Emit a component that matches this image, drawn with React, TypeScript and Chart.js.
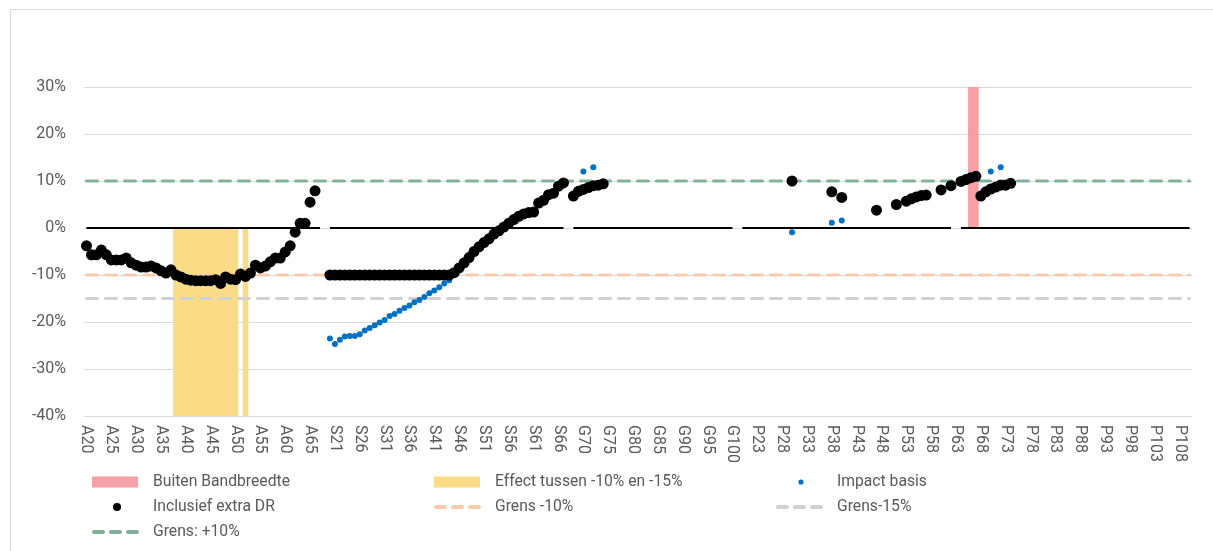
import React, { useEffect, useRef } from 'react';
import { Chart, registerables } from 'chart.js';

Chart.register(...registerables);

// ---------- categories ----------
function range(prefix: string, from: number, to: number): string[] {
  const out: string[] = [];
  for (let a = from; a <= to; a++) out.push(prefix + a);
  return out;
}
const groupA = range('A', 20, 67);
const groupS = range('S', 20, 67);
const groupG = range('G', 68, 100);
const groupP = range('P', 20, 110);
const categories: string[] = [...groupA, '', ...groupS, '', ...groupG, '', ...groupP];
const tickEvery = 5;

// ---------- series: Inclusief extra DR (%) ----------
const inclusiefA: (number | null)[] = [
  -3.8, -5.7, -5.7, -4.7, -5.7, -6.8, -6.8, -6.8, -6.4, -7.4,
  -7.9, -8.3, -8.3, -8.1, -8.5, -9.1, -9.6, -8.9, -10.0, -10.4,
  -10.9, -11.1, -11.2, -11.2, -11.2, -11.2, -11.0, -11.8, -10.4, -10.9,
  -11.0, -9.8, -10.3, -9.6, -7.9, -8.5, -8.1, -7.2, -6.4, -6.4,
  -5.1, -3.8, -0.9, 1.0, 1.0, 5.5, 7.9, null,
];
const inclusiefS: (number | null)[] = [
  -10, -10, -10, -10, -10, -10, -10, -10, -10, -10,
  -10, -10, -10, -10, -10, -10, -10, -10, -10, -10,
  -10, -10, -10, -10, -10,
  -9.5, -8.5, -7.4, -6.3, -5.0, -4.0, -3.1, -2.3, -1.3, -0.6,
  0.2, 1.0, 1.8, 2.5, 3.0, 3.3, 3.4, 5.3, 5.9, 7.1,
  7.4, 8.9, 9.6,
];
const inclusiefG: Record<string, number> = {
  G68: 6.8, G69: 7.8, G70: 8.2, G71: 8.6, G72: 9.0, G73: 9.1, G74: 9.4,
};
const inclusiefP: Record<string, number> = {
  P30: 10.0, P38: 7.7, P40: 6.5, P47: 3.8, P51: 5.0, P53: 5.7, P54: 6.2,
  P55: 6.6, P56: 6.9, P57: 7.0, P60: 8.1, P62: 9.0, P64: 9.9, P65: 10.3,
  P66: 10.7, P67: 11.0, P68: 6.8, P69: 7.7, P70: 8.3, P71: 8.7, P72: 9.1,
  P73: 9.1, P74: 9.5,
};

// ---------- series: Impact basis (%) where it differs from Inclusief ----------
const basisS: number[] = [
  -23.5, -24.7, -23.8, -23.1, -23.0, -23.0, -22.6, -21.8, -21.3, -20.7,
  -20.1, -19.6, -18.7, -18.3, -17.6, -17.0, -16.5, -15.8, -15.3, -14.7,
  -13.9, -13.3, -12.6, -11.8, -11.1,
];
const basisOther: Record<string, number> = {
  G70: 12.0, G72: 12.9, P30: -0.9, P38: 1.1, P40: 1.6, P70: 12.0, P72: 12.9,
};

// ---------- bands & limits ----------
const buitenBandCats = ['P66', 'P67'];
const buitenBandValue = 30;
const effectCats = ['A38', 'A39', 'A40', 'A41', 'A42', 'A43', 'A44', 'A45', 'A46', 'A47', 'A48', 'A49', 'A50', 'A52'];
const effectValue = -40;
const zeroGapCats = ['P63'];
const grensPlus10 = 10;
const grensMin10 = -10;
const grensMin15 = -15;
const yMin = -40;
const yMax = 30;
const yStep = 10;

// ---------- build full arrays ----------
const inclusief: (number | null)[] = categories.map(() => null);
inclusiefA.forEach((v, i) => { inclusief[i] = v; });
inclusiefS.forEach((v, i) => { inclusief[groupA.length + 1 + i] = v; });
categories.forEach((c, i) => {
  if (c in inclusiefG) inclusief[i] = inclusiefG[c];
  if (c in inclusiefP) inclusief[i] = inclusiefP[c];
});
const basis: (number | null)[] = inclusief.slice();
basisS.forEach((v, i) => { basis[groupA.length + 1 + i] = v; });
categories.forEach((c, i) => { if (c in basisOther) basis[i] = basisOther[c]; });

const buitenBand = categories.map((c) => (buitenBandCats.includes(c) ? buitenBandValue : null));
const effect = categories.map((c) => (effectCats.includes(c) ? effectValue : null));
const zeroLine = categories.map((c) => (c === '' || zeroGapCats.includes(c) ? null : 0));
const linePlus10 = categories.map(() => grensPlus10);
const lineMin10 = categories.map(() => grensMin10);
const lineMin15 = categories.map(() => grensMin15);

const RED = '#F5A0A4';
const YELLOW = '#FADC86';
const BLUE = '#0070C0';
const BLACK = '#000000';
const ORANGE = '#F8CBAD';
const GRAY = '#D0D0D0';
const GREEN = '#82B096';
const TEXT = '#595959';
const FONT = 'Roboto, "Liberation Sans", sans-serif';

const customPlugin = {
  id: 'customDraw',
  beforeDraw(chart: any) {
    const ctx = chart.ctx;
    ctx.save();
    ctx.fillStyle = '#ffffff';
    ctx.fillRect(0, 0, chart.width, chart.height);
    ctx.strokeStyle = '#D9D9D9';
    ctx.lineWidth = 1;
    ctx.beginPath();
    ctx.moveTo(10.5, chart.height + 5);
    ctx.lineTo(10.5, 9.5);
    ctx.lineTo(chart.width + 5, 9.5);
    ctx.stroke();
    ctx.restore();
  },
  afterDraw(chart: any) {
    const ctx = chart.ctx;
    const xs = chart.scales.x;
    const area = chart.chartArea;
    ctx.save();
    // rotated x labels (reading top to bottom)
    ctx.fillStyle = TEXT;
    ctx.font = '16px ' + FONT;
    ctx.textAlign = 'left';
    ctx.textBaseline = 'middle';
    categories.forEach((c, i) => {
      if (i % tickEvery !== 0 || !c) return;
      const x = xs.getPixelForValue(i);
      ctx.save();
      ctx.translate(x, area.bottom + 9);
      ctx.rotate(Math.PI / 2);
      ctx.fillText(c, 0, 0);
      ctx.restore();
    });

    // legend
    const ds = chart.data.datasets;
    const byKey = (k: string) => ds.find((d: any) => d.key === k);
    const items = [
      { k: 'buiten', col: 0, row: 0, kind: 'rect' },
      { k: 'effect', col: 1, row: 0, kind: 'rect' },
      { k: 'basis', col: 2, row: 0, kind: 'dot', r: 2.6 },
      { k: 'inclusief', col: 0, row: 1, kind: 'dot', r: 4 },
      { k: 'min10', col: 1, row: 1, kind: 'dash' },
      { k: 'min15', col: 2, row: 1, kind: 'dash' },
      { k: 'plus10', col: 0, row: 2, kind: 'dash' },
    ];
    ctx.font = '15.7px ' + FONT;
    items.forEach((it: any) => {
      const d = byKey(it.k);
      const sx = 92 + it.col * 342;
      const y = 482 + it.row * 25;
      if (it.kind === 'rect') {
        ctx.fillStyle = d.backgroundColor;
        ctx.fillRect(sx, y - 5.5, 46, 11);
      } else if (it.kind === 'dot') {
        ctx.fillStyle = d.pointBackgroundColor;
        ctx.beginPath();
        ctx.arc(sx + 25, y, it.r, 0, Math.PI * 2);
        ctx.fill();
      } else {
        ctx.strokeStyle = d.borderColor;
        ctx.lineWidth = 4;
        ctx.lineCap = 'round';
        ctx.setLineDash([9, 8]);
        ctx.beginPath();
        ctx.moveTo(sx + 2, y);
        ctx.lineTo(sx + 45, y);
        ctx.stroke();
        ctx.setLineDash([]);
      }
      ctx.fillStyle = TEXT;
      ctx.textAlign = 'left';
      ctx.textBaseline = 'middle';
      ctx.fillText(d.label, sx + 61, y + 0.5);
    });
    ctx.restore();
  },
};

export default function App() {
  const ref = useRef<HTMLCanvasElement | null>(null);
  useEffect(() => {
    if (!ref.current) return;
    const dashed = (key: string, label: string, data: number[], color: string, order: number) => ({
      key,
      type: 'line',
      label,
      data,
      borderColor: color,
      backgroundColor: color,
      borderWidth: 3,
      borderDash: [11, 8],
      borderCapStyle: 'round',
      pointRadius: 0,
      pointHoverRadius: 0,
      fill: false,
      order,
    });
    const chart = new Chart(ref.current, {
      type: 'bar',
      data: {
        labels: categories,
        datasets: [
          {
            key: 'inclusief',
            type: 'line',
            label: 'Inclusief extra DR',
            data: inclusief,
            showLine: false,
            pointRadius: 5.5,
            pointHoverRadius: 5.5,
            pointBorderWidth: 0,
            pointBackgroundColor: BLACK,
            borderColor: BLACK,
            order: 1,
          },
          {
            key: 'basis',
            type: 'line',
            label: 'Impact basis',
            data: basis,
            showLine: false,
            pointRadius: 3,
            pointHoverRadius: 3,
            pointBorderWidth: 0,
            pointBackgroundColor: BLUE,
            borderColor: BLUE,
            order: 2,
          },
          {
            key: 'zero',
            type: 'line',
            label: '',
            data: zeroLine,
            borderColor: BLACK,
            borderWidth: 2,
            pointRadius: 0,
            spanGaps: false,
            order: 3,
          },
          dashed('plus10', 'Grens: +10%', linePlus10, GREEN, 4),
          dashed('min10', 'Grens -10%', lineMin10, ORANGE, 5),
          dashed('min15', 'Grens-15%', lineMin15, GRAY, 6),
          {
            key: 'buiten',
            type: 'bar',
            label: 'Buiten Bandbreedte',
            data: buitenBand,
            backgroundColor: RED,
            borderWidth: 0,
            barPercentage: 1,
            categoryPercentage: 1,
            grouped: false,
            order: 7,
          },
          {
            key: 'effect',
            type: 'bar',
            label: 'Effect tussen -10% en -15%',
            data: effect,
            backgroundColor: YELLOW,
            borderWidth: 0,
            barPercentage: 1,
            categoryPercentage: 1,
            grouped: false,
            order: 8,
          },
        ] as any,
      },
      options: {
        responsive: false,
        animation: false,
        devicePixelRatio: 1,
        layout: { padding: { left: 0, right: 21, top: 87, bottom: 0 } },
        plugins: { legend: { display: false }, tooltip: { enabled: false } },
        scales: {
          x: {
            type: 'category',
            offset: true,
            grid: { display: false },
            border: { display: false },
            ticks: { display: false },
            afterFit: (s: any) => { s.height = 135; },
          },
          y: {
            min: yMin,
            max: yMax,
            ticks: {
              stepSize: yStep,
              padding: 18,
              color: TEXT,
              font: { family: FONT, size: 16 },
              callback: (v: any) => v + '%',
            },
            grid: { color: '#D9D9D9', lineWidth: 1, drawTicks: false },
            border: { display: false },
            afterFit: (s: any) => { s.width = 84; },
          },
        },
      } as any,
      plugins: [customPlugin],
    });
    return () => chart.destroy();
  }, []);
  return (
    <div style={{ position: 'fixed', left: 0, top: 0, width: 1213, height: 551, background: '#fff' }}>
      <canvas ref={ref} width={1213} height={551} style={{ display: 'block', width: 1213, height: 551 }} />
    </div>
  );
}
